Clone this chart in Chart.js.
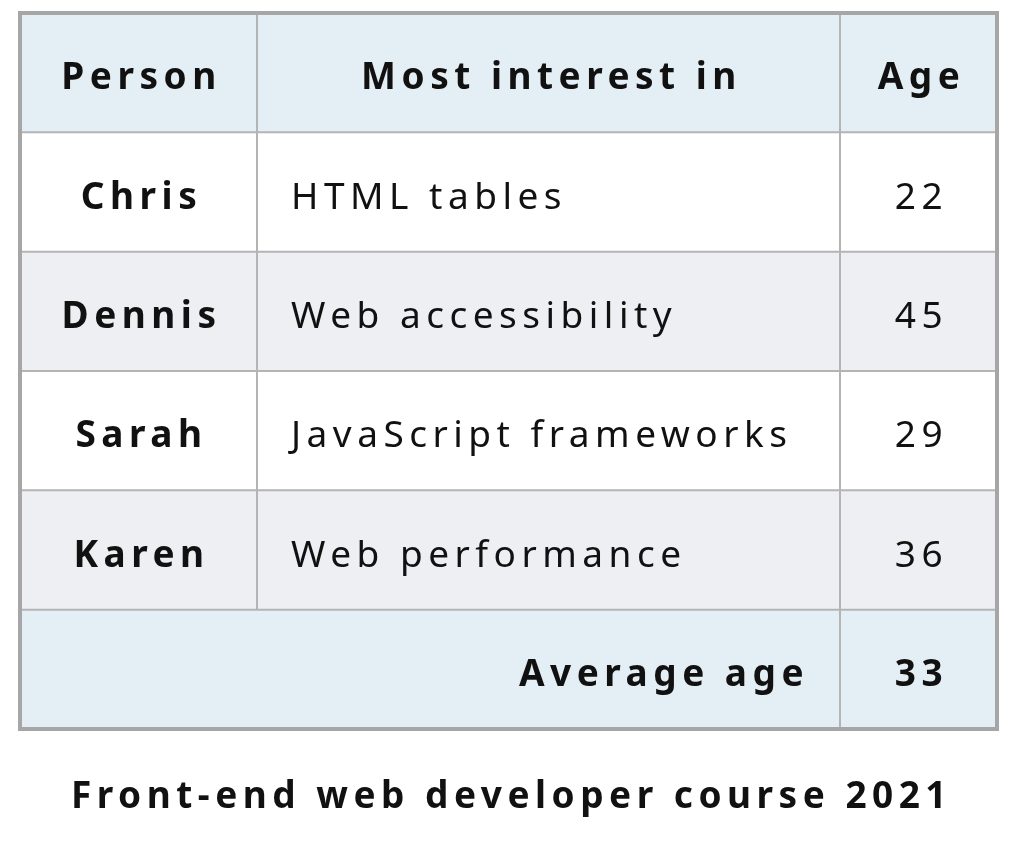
<!DOCTYPE html>
<html>
<head>
<meta charset="utf-8">
<script src="https://cdn.jsdelivr.net/npm/chart.js@4/dist/chart.umd.min.js"></script>
<style>
  html, body { margin: 0; padding: 0; background: #fff; }
  canvas { display: block; }
</style>
</head>
<body>
<canvas id="tableChart" width="1024" height="851"></canvas>
<script>
// table content
const headers = ['Person', 'Most interest in', 'Age'];
const persons = ['Chris', 'Dennis', 'Sarah', 'Karen'];
const interests = ['HTML tables', 'Web accessibility', 'JavaScript frameworks', 'Web performance'];
const ages = [22, 45, 29, 36];
const footerLabel = 'Average age';
const footerValue = 33;
const caption = 'Front-end web developer course 2021';

// layout (table units = pixels inside the chart area)
const colEdges = [0, 237, 820, 977];
const rowKeys = ['head', ...persons, 'foot'];
const rowColors = ['#e4eef5', '#ffffff', '#eeeff2', '#ffffff', '#eeeff2', '#e4eef5'];
const FONT = '"Noto Sans", "Open Sans", sans-serif';

const tablePlugin = {
    id: 'tablePlugin',
    afterDatasetsDraw(chart) {
        const { ctx, chartArea, scales } = chart;
        const x = scales.x, y = scales.y;
        const band = y.getPixelForValue(1) - y.getPixelForValue(0);
        const rowTop = i => y.getPixelForValue(i) - band / 2;
        const rowMid = i => y.getPixelForValue(i) + 6;
        const colX = i => x.getPixelForValue(colEdges[i]);
        const colMid = i => (colX(i) + colX(i + 1)) / 2;

        ctx.save();
        // grid lines
        ctx.strokeStyle = '#b4b4b4';
        ctx.lineWidth = 2;
        for (let r = 1; r < rowKeys.length; r++) {
            ctx.beginPath();
            ctx.moveTo(chartArea.left, rowTop(r));
            ctx.lineTo(chartArea.right, rowTop(r));
            ctx.stroke();
        }
        // column lines (col 1 stops above footer)
        ctx.beginPath();
        ctx.moveTo(colX(1), chartArea.top);
        ctx.lineTo(colX(1), rowTop(rowKeys.length - 1));
        ctx.moveTo(colX(2), chartArea.top);
        ctx.lineTo(colX(2), chartArea.bottom);
        ctx.stroke();
        // outer border
        ctx.strokeStyle = '#a6a6a6';
        ctx.lineWidth = 4;
        ctx.strokeRect(chartArea.left, chartArea.top, chartArea.right - chartArea.left, chartArea.bottom - chartArea.top);

        ctx.fillStyle = '#111';
        ctx.textBaseline = 'middle';
        ctx.letterSpacing = '5.5px';
        const text = (t, px, py, align, bold) => {
            ctx.font = (bold ? 'bold ' : '') + '37px ' + FONT;
            ctx.textAlign = align;
            ctx.fillText(String(t), px + (align === 'center' ? 3 : align === 'right' ? 5 : 0), py);
        };
        // header
        headers.forEach((h, i) => text(h, colMid(i), rowMid(0), 'center', true));
        // body
        persons.forEach((p, i) => {
            const r = i + 1;
            text(p, colMid(0), rowMid(r), 'center', true);
            text(interests[i], colX(1) + 34, rowMid(r), 'left', false);
            text(ages[i], colMid(2), rowMid(r), 'center', false);
        });
        // footer
        const f = rowKeys.length - 1;
        text(footerLabel, colX(2) - 36, rowMid(f), 'right', true);
        text(footerValue, colMid(2), rowMid(f), 'center', true);
        // caption
        text(caption, (chartArea.left + chartArea.right) / 2, chartArea.bottom + 68, 'center', true);
        ctx.restore();
    }
};

new Chart(document.getElementById('tableChart'), {
    type: 'bar',
    data: {
        labels: rowKeys,
        datasets: [{
            data: rowKeys.map(() => [colEdges[0], colEdges[colEdges.length - 1]]),
            backgroundColor: rowColors,
            borderWidth: 0,
            barPercentage: 1,
            categoryPercentage: 1
        }]
    },
    options: {
        indexAxis: 'y',
        responsive: false,
        devicePixelRatio: 1,
        animation: false,
        layout: { padding: { left: 20, right: 27, top: 13, bottom: 122 } },
        plugins: { legend: { display: false }, tooltip: { enabled: false } },
        scales: {
            x: { type: 'linear', min: colEdges[0], max: colEdges[colEdges.length - 1], display: false },
            y: { display: false }
        }
    },
    plugins: [tablePlugin]
});
</script>
</body>
</html>
